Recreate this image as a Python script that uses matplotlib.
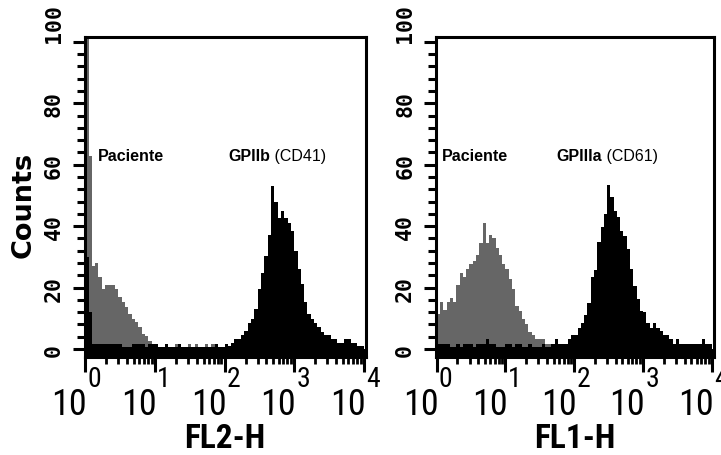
"""Flow cytometry histograms: GPIIb (CD41) and GPIIIa (CD61)"""

import numpy as np
import matplotlib
matplotlib.use('Agg')
from matplotlib import pyplot as plt
from matplotlib import font_manager
from matplotlib.ticker import MultipleLocator, LogLocator, NullFormatter
from matplotlib.transforms import offset_copy

# 84 log channels over 4 decades (10^0 .. 10^4)
edges = np.logspace(0, 4, 85)

# FL2-H panel
fl2_patient = ([120, 63, 27, 28, 23.5, 19.5, 21, 21, 21, 19.5, 17, 15.3, 13.7,
                11.4, 9.8, 8.8, 7.2, 4.9, 4.2, 2.6, 1.2, 1.0,
                0, 0, 0, 0, 0, 1.6, 0, 0, 0, 1.6, 0, 1.6, 0, 0, 1.6, 0, 1.6, 0]
               + [0] * 44)
fl2_gp2b = ([30, 12] + [1.6] * 9 + [0.6, 0.6, 0.6, 1.6, 1.6, 1.6, 1.6, 0.6,
            1.6, 1.6, 1.6, 0.6, 0.6, 1.6, 0.6, 0.6, 0.5, 1.6,
            0.6, 0.6, 0.5, 0.6, 0.5, 0.6, 0.6, 0.5, 0.6, 0.5, 1.6, 0.6, 0.6, 1.6, 1.0]
            + [2, 3.3, 3.3, 4.6, 6, 8.5, 9.8, 13, 19.5, 24.7, 30.4, 37, 53, 47.8,
               42.6, 45, 42.6, 41, 38.5, 32, 26, 21.2, 15.3, 11.4, 9.8, 8.5, 7.2,
               5.6, 4.6, 4.6, 3.3, 3.3, 2, 2, 3.3, 3.3, 2, 2, 1, 1])

# FL1-H panel
fl1_patient = ([11.4, 15.2, 12.8, 15.2, 16.6, 15.2, 20.8, 24.7, 23.4, 26, 27.7,
                28.5, 30.6, 34.5, 41, 34.5, 37.1, 36, 33, 30.5, 27.7, 26, 22.8,
                19.5, 13.9, 12.5, 9.8, 8.1, 5.6, 4.6, 3.3, 3.3, 3.3, 1.6, 1.6]
               + [0] * 49)
fl1_gp3a = ([1.6, 1.6, 1.6, 1.6, 0.5, 0.5, 1.6, 0.5, 1.6, 1.6, 1.6, 0.5, 1.6,
             1.6, 1.6, 3.3, 1.6, 1.6, 0.5, 0.5, 0.5, 1.6, 1.6, 0.5, 1.6, 1.6,
             0.5, 0.5, 1.6, 0.5, 0.5, 0.5, 1.6, 0.5, 0.5]
            + [1.6, 3.3, 1.6, 1.6, 1.6, 3.3, 4.6, 4.6, 7, 8.5, 11, 15, 23.3, 25.8,
               34.7, 39.6, 44, 53.4, 49.5, 45, 43, 38.5, 36.9, 32.6, 26, 20.6,
               16.3, 12.5, 12, 8.5, 7, 8.5, 7, 6, 4.6, 4.6, 3.3, 1.6, 3.3, 1.6,
               1.6, 1.6, 1.6, 1.6, 1.6, 1.6, 3.3, 1.6, 1.6])

panels = [
    dict(rect=[0.1172, 0.2149, 0.3904, 0.7018], gray=fl2_patient, black=fl2_gp2b,
         xlabel='FL2-H', marker='GPIIb', clone=' (CD41)', pac_x=1.51, mk_x=114),
    dict(rect=[0.6047, 0.2149, 0.3856, 0.7018], gray=fl1_patient, black=fl1_gp3a,
         xlabel='FL1-H', marker='GPIIIa', clone=' (CD61)', pac_x=1.18, mk_x=54),
]

yticks = [0, 20, 40, 60, 80, 100]
ylo, yhi = -2.6, 101.6

# pick the narrowest installed family for the axis numbers
installed = {f.name for f in font_manager.fontManager.ttflist}
narrow = [f for f in ['Roboto Condensed', 'Liberation Sans Narrow', 'DejaVu Sans Condensed',
                      'Liberation Sans'] if f in installed] + ['DejaVu Sans']
arial = ['Liberation Sans', 'DejaVu Sans']

fig = plt.figure(figsize=(7.21, 4.56), dpi=100)

for p in panels:
    ax = fig.add_axes(p['rect'])
    ax.set_xscale('log')
    ax.stairs(p['gray'], edges, fill=True, color='#666666', zorder=1)
    ax.stairs(p['black'], edges, fill=True, color='black', zorder=1.5)
    ax.axhspan(ylo, 0, color='black', lw=0, zorder=1.6)

    ax.set_xlim(10 ** -0.01, 10 ** 4.03)
    ax.set_ylim(ylo, yhi)

    for s in ax.spines.values():
        s.set_linewidth(2.2)

    ax.set_yticks(yticks)
    ax.yaxis.set_minor_locator(MultipleLocator(4))
    ax.set_yticklabels([str(v) for v in yticks])
    plt.setp(ax.get_yticklabels(), rotation=90, va='center',
             family='DejaVu Sans Mono', weight='bold', fontsize=15.5)
    ax.get_yticklabels()[-1].set_va('bottom')
    ax.tick_params(axis='y', which='major', length=9, width=2.2, pad=6)
    ax.tick_params(axis='y', which='minor', length=6, width=2.2)

    ax.set_xticks([10 ** k for k in range(5)])
    ax.xaxis.set_minor_locator(LogLocator(base=10, subs=range(2, 10), numticks=20))
    ax.xaxis.set_major_formatter(NullFormatter())
    ax.xaxis.set_minor_formatter(NullFormatter())
    ax.tick_params(axis='x', which='major', length=10.8, width=2.2)
    ax.tick_params(axis='x', which='minor', length=5, width=2.0)

    # decade labels: big "10" with the exponent raised beside the tick
    t_base = offset_copy(ax.get_xaxis_transform(), fig=fig, x=2, y=-57, units='dots')
    t_exp = offset_copy(ax.get_xaxis_transform(), fig=fig, x=2, y=-29, units='dots')
    for k in range(5):
        ax.text(10 ** k, 0, '10', transform=t_base, ha='right', va='baseline',
                family=narrow, fontsize=26)
        ax.text(10 ** k, 0, str(k), transform=t_exp, ha='left', va='baseline',
                family=narrow, fontsize=20)

    ax.text(p['pac_x'], 62.9, 'Paciente', ha='left', va='center',
            family=arial, weight='bold', fontsize=11.5)
    t1 = ax.text(p['mk_x'], 62.9, p['marker'], ha='left', va='center',
                 family=arial, weight='bold', fontsize=11.5)
    ax.annotate(p['clone'], xy=(1, 0), xycoords=t1, ha='left', va='bottom',
                family=arial, fontsize=11.5)

    x0, _, w, _ = p['rect']
    fig.text(x0 + w / 2, 8 / 456, p['xlabel'], ha='center', va='baseline',
             family=narrow, weight='bold', fontsize=24)

fig.text(24 / 721, 1 - 205 / 456, 'Counts', rotation=90, ha='center', va='center',
         family='DejaVu Sans', weight='bold', fontsize=19.5)

plt.savefig('out.png', dpi=100)
